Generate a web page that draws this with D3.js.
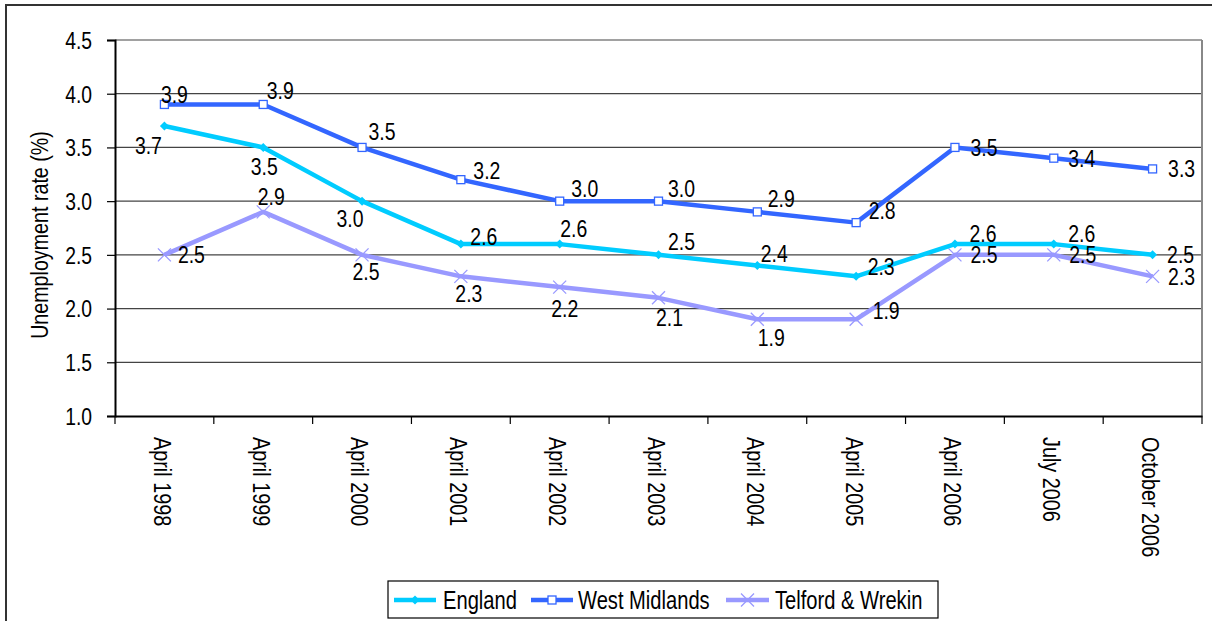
<!DOCTYPE html>
<html>
<head>
<meta charset="utf-8">
<script src="https://cdn.jsdelivr.net/npm/d3@7/dist/d3.min.js"></script>
<style>
  html, body { margin: 0; padding: 0; background: #fff; }
  svg { display: block; }
  text { font-family: 'Liberation Sans Narrow', 'Arial Narrow', 'Liberation Sans', sans-serif; fill: #000; }
</style>
</head>
<body>
<svg id="chart" width="1212" height="621"></svg>
<script>
// ---- data ----
const categories = ["April 1998","April 1999","April 2000","April 2001","April 2002","April 2003","April 2004","April 2005","April 2006","July 2006","October 2006"];
const england      = [3.7, 3.5, 3.0, 2.6, 2.6, 2.5, 2.4, 2.3, 2.6, 2.6, 2.5];
const westMidlands = [3.9, 3.9, 3.5, 3.2, 3.0, 3.0, 2.9, 2.8, 3.5, 3.4, 3.3];
const telford      = [2.5, 2.9, 2.5, 2.3, 2.2, 2.1, 1.9, 1.9, 2.5, 2.5, 2.3];
const yTicks = [1.0, 1.5, 2.0, 2.5, 3.0, 3.5, 4.0, 4.5];
const seriesNames = ["England", "West Midlands", "Telford & Wrekin"];

// label offsets (pixels from the point to the label centre)
const englandLabelOffsets = [[-16,20],[1,19],[-12,17],[23,-8],[14,-16],[23,-13],[17,-12],[25,-10],[28,-11],[28,-11],[28,0]];
const wmLabelOffsets      = [[10,-10],[17,-14],[20,-16],[26,-9],[25,-13],[23,-13],[24,-13],[26,-12],[29,0],[28,0],[29,0]];
const telfordLabelOffsets = [[27,0],[8,-15],[4,17],[8,17],[5,21],[11,20],[14,18],[30,-9],[29,0],[29,0],[29,0]];

const colors = ["#00CCFF", "#3366FF", "#9999FF"];
const SX = 0.81; // horizontal condensing to imitate a narrow face

const svg = d3.select("#chart");
const margin = { left: 115, top: 40, right: 1202, bottom: 416 };

// outer border
svg.append("rect").attr("x", 6).attr("y", 5).attr("width", 1220).attr("height", 640)
  .attr("fill", "#fff").attr("stroke", "#333").attr("stroke-width", 2);

const x = d3.scaleBand().domain(categories).range([margin.left, margin.right]);
const y = d3.scaleLinear().domain([1.0, 4.5]).range([margin.bottom, margin.top]);

// gridlines
svg.append("g").selectAll("line").data(yTicks.filter(t => t > 1.0)).join("line")
  .attr("x1", margin.left).attr("x2", margin.right)
  .attr("y1", d => y(d)).attr("y2", d => y(d))
  .attr("stroke", "#444").attr("stroke-width", 1.2);

// plot right border
svg.append("line").attr("x1", margin.right).attr("x2", margin.right)
  .attr("y1", margin.top).attr("y2", margin.bottom)
  .attr("stroke", "#888").attr("stroke-width", 2);

// y axis
const yAxis = d3.axisLeft(y).tickValues(yTicks).tickFormat(d3.format(".1f")).tickSize(8).tickPadding(0);
const gy = svg.append("g").attr("transform", `translate(${margin.left},0)`).call(yAxis);
gy.select(".domain").attr("stroke", "#000").attr("stroke-width", 2);
gy.selectAll(".tick line").attr("stroke", "#000").attr("stroke-width", 1.2);
gy.selectAll(".tick text").attr("font-size", 23).attr("font-family", null).attr("fill", "#000")
  .attr("x", 0).attr("dy", "0.36em")
  .attr("transform", `translate(-23,0) scale(0.84,1)`);

// x axis
const xAxis = d3.axisBottom(x).tickSize(0).tickPadding(0);
const gx = svg.append("g").attr("transform", `translate(0,${margin.bottom})`).call(xAxis);
gx.select(".domain").attr("stroke", "#000").attr("stroke-width", 2);
gx.selectAll(".tick text")
  .attr("font-size", 24.5).attr("font-family", null).attr("fill", "#000")
  .attr("text-anchor", "start")
  .attr("x", 0).attr("y", 0).attr("dy", "0.35em")
  .attr("transform", `translate(-2,21) rotate(90) scale(${SX},1)`);
// band boundary ticks
const bounds = categories.map(c => x(c)).concat([margin.right]);
gx.append("g").selectAll("line").data(bounds).join("line")
  .attr("x1", d => d).attr("x2", d => d).attr("y1", 0).attr("y2", 8)
  .attr("stroke", "#000").attr("stroke-width", 1.2);

// y title
svg.append("text")
  .attr("transform", `translate(48,${(margin.top + margin.bottom) / 2 + 7}) rotate(-90) scale(0.82,1)`)
  .attr("text-anchor", "middle").attr("font-size", 24)
  .text("Unemployment rate (%)");

const cx = i => x(categories[i]) + x.bandwidth() / 2;
const line = d3.line().x((d, i) => cx(i)).y(d => y(d));

const allSeries = [england, westMidlands, telford];
const allOffsets = [englandLabelOffsets, wmLabelOffsets, telfordLabelOffsets];

function drawMarker(g, k, px, py, scale) {
  const s = scale || 1;
  if (k === 0) {
    g.append("path").attr("d", `M${px},${py - 4.5*s}L${px + 4.5*s},${py}L${px},${py + 4.5*s}L${px - 4.5*s},${py}Z`)
      .attr("fill", colors[0]);
  } else if (k === 1) {
    g.append("rect").attr("x", px - 4*s).attr("y", py - 4*s).attr("width", 8*s).attr("height", 8*s)
      .attr("fill", "#fff").attr("stroke", colors[1]).attr("stroke-width", 1.3);
  } else {
    const r = 6.5 * s;
    g.append("path").attr("d", `M${px - r},${py - r}L${px + r},${py + r}M${px - r},${py + r}L${px + r},${py - r}`)
      .attr("stroke", colors[2]).attr("stroke-width", 1.3).attr("fill", "none");
  }
}

// draw series: Telford first, then England, then West Midlands on top
[2, 0, 1].forEach(k => {
  const data = allSeries[k];
  const g = svg.append("g");
  g.append("path").datum(data).attr("d", line)
    .attr("fill", "none").attr("stroke", colors[k]).attr("stroke-width", 4.5)
    .attr("stroke-linejoin", "round");
  data.forEach((v, i) => drawMarker(g, k, cx(i), y(v)));
});

// labels
[2, 0, 1].forEach(k => {
  const data = allSeries[k];
  const offs = allOffsets[k];
  svg.append("g").selectAll("text").data(data).join("text")
    .attr("transform", (d, i) => `translate(${cx(i) + offs[i][0]},${y(d) + offs[i][1] + 8.5}) scale(${SX},1)`)
    .attr("text-anchor", "middle").attr("font-size", 24)
    .text(d => d3.format(".1f")(d));
});

// legend
const legend = svg.append("g");
legend.append("rect").attr("x", 388).attr("y", 581).attr("width", 550).attr("height", 37)
  .attr("fill", "#fff").attr("stroke", "#000").attr("stroke-width", 1.2);
const legendItems = [
  { x0: 394, x1: 436, tx: 443 },
  { x0: 531, x1: 573, tx: 578 },
  { x0: 726, x1: 769, tx: 775 }
];
seriesNames.forEach((name, k) => {
  const it = legendItems[k];
  const ly = 600;
  legend.append("line").attr("x1", it.x0).attr("x2", it.x1).attr("y1", ly).attr("y2", ly)
    .attr("stroke", colors[k]).attr("stroke-width", 4.5);
  drawMarker(legend, k, (it.x0 + it.x1) / 2, ly, 1);
  legend.append("text").attr("transform", `translate(${it.tx},${ly + 9}) scale(0.79,1)`)
    .attr("font-size", 25.5).text(name);
});
</script>
</body>
</html>
